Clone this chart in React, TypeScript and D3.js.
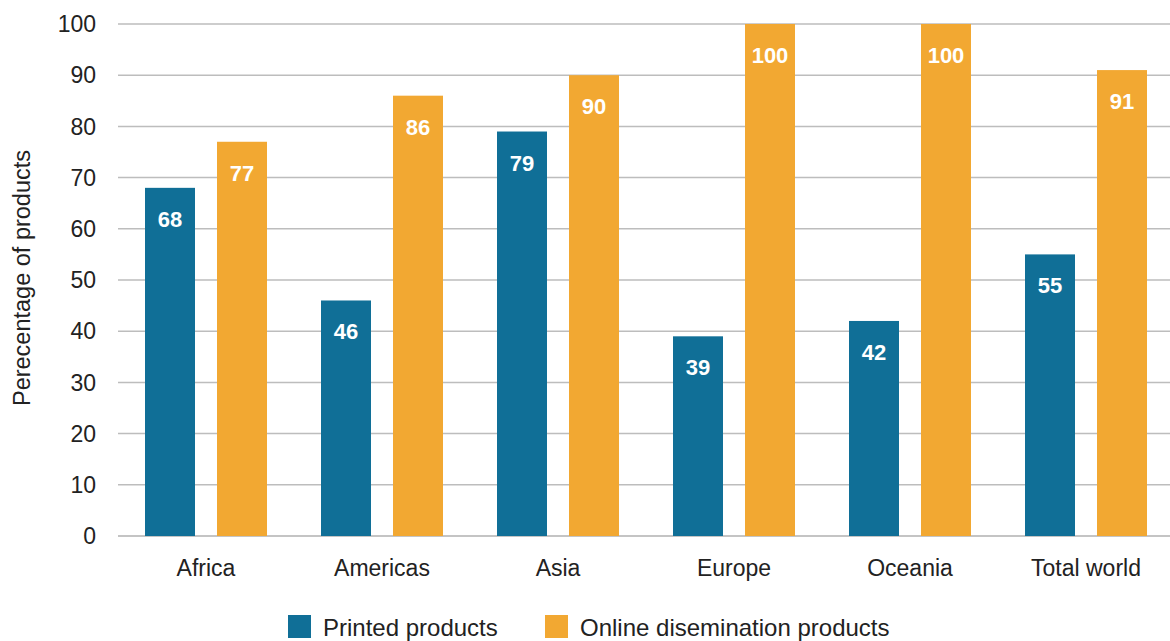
import React from "react";
import * as d3 from "d3";

const categories = ["Africa", "Americas", "Asia", "Europe", "Oceania", "Total world"];
const seriesNames = ["Printed products", "Online disemination products"];
const printed = [68, 46, 79, 39, 42, 55];
const online = [77, 86, 90, 100, 100, 91];
const yTicks = [0, 10, 20, 30, 40, 50, 60, 70, 80, 90, 100];
const colors = ["#106f97", "#f2a832"];

const W = 1170;
const H = 641;
const FONT = "'Liberation Sans', Arial, Helvetica, sans-serif";

export default function App() {
  const y = d3.scaleLinear().domain([0, 100]).range([536, 24]);
  const x = d3.scaleBand<string>().domain(categories).range([118, 1174]).paddingInner(0).paddingOuter(0);
  const xi = d3
    .scaleBand<string>()
    .domain(seriesNames)
    .range([0, x.bandwidth()])
    .paddingInner(22 / 72)
    .paddingOuter(0.375);
  const values = [printed, online];
  const legendX = [288, 545];

  return (
    <svg
      width={W}
      height={H}
      style={{ position: "absolute", left: 0, top: 0, background: "#fff" }}
      fontFamily={FONT}
    >
      {yTicks.map((t) => (
        <g key={t}>
          <line
            x1={118}
            x2={W}
            y1={y(t)}
            y2={y(t)}
            stroke={t === 0 ? "#c4c4c4" : "#bdbdbd"}
            strokeWidth={t === 0 ? 2 : 1.5}
          />
          <text x={96} y={y(t)} dy="0.36em" textAnchor="end" fontSize={23} fill="#222">
            {t}
          </text>
        </g>
      ))}
      <text
        transform={`translate(30,278) rotate(-90)`}
        textAnchor="middle"
        fontSize={23.5}
        fill="#222"
      >
        Perecentage of products
      </text>
      {categories.map((c, i) => (
        <g key={c}>
          {seriesNames.map((s, k) => {
            const v = values[k][i];
            const bx = (x(c) as number) + (xi(s) as number);
            return (
              <g key={s}>
                <rect x={bx} y={y(v)} width={xi.bandwidth()} height={y(0) - y(v)} fill={colors[k]} />
                <text
                  x={bx + xi.bandwidth() / 2}
                  y={y(v) + 39}
                  textAnchor="middle"
                  fontSize={22}
                  fontWeight="bold"
                  fill="#fff"
                >
                  {v}
                </text>
              </g>
            );
          })}
          <text
            x={(x(c) as number) + x.bandwidth() / 2}
            y={576}
            textAnchor="middle"
            fontSize={23}
            fill="#222"
          >
            {c}
          </text>
        </g>
      ))}
      <g>
        {seriesNames.map((s, k) => (
          <g key={s}>
            <rect x={legendX[k]} y={615} width={23} height={23} fill={colors[k]} />
            <text x={legendX[k] + 35} y={636} fontSize={24} fill="#222">
              {s}
            </text>
          </g>
        ))}
      </g>
    </svg>
  );
}
